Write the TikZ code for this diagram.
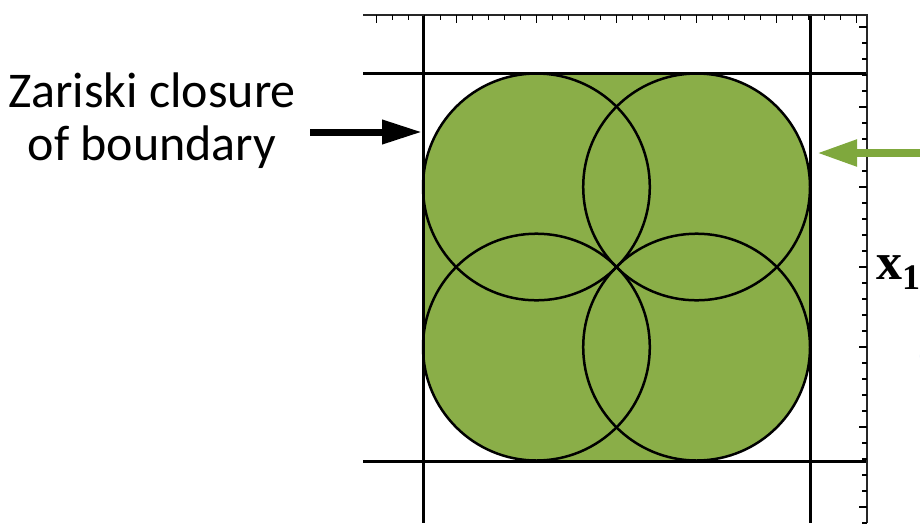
\documentclass[tikz,border=0pt]{standalone}
\usepackage{fontspec}
\setmainfont{Carlito}
\newfontfamily\serifbold{Liberation Serif}
\usetikzlibrary{arrows.meta}
\definecolor{leaf}{HTML}{8AAE48}
\definecolor{leafarrow}{HTML}{7FA83D}
\definecolor{capblue}{HTML}{4472C4}
\tikzset{
  gridline/.style={line width=3pt, black},
  circline/.style={line width=2.5pt, black},
  axisline/.style={line width=1.6pt, black!85},
  tickline/.style={line width=1.2pt, black},
  fatarrow/.style={line width=7pt, -{Triangle[length=40pt,width=23pt]}},
  greenarrow/.style={line width=8pt, leafarrow, -{Triangle[length=40pt,width=25pt]}},
}
\begin{document}
\begin{tikzpicture}[x=1pt,y=-1pt]
\useasboundingbox (0,0) rectangle (920,523);
% filled rounded square
\fill[leaf, rounded corners=113.4pt] (423,73) rectangle (810,461);
% four circles
\foreach \dx/\dy [count=\i] in {-80.1/-80.1, 80.1/-80.1, -80.1/80.1, 80.1/80.1} {
  \draw[circline] (616.5+\dx,267+\dy) circle[radius=113.4pt];
}
% grid lines
\draw[gridline] (423,15) -- (423,523);
\draw[gridline] (810,15) -- (810,523);
\draw[gridline] (363,73) -- (867,73);
\draw[gridline] (363,461) -- (867,461);
% axes
\draw[axisline] (363,15) -- (867,15) -- (867,523);
\foreach \k in {-15,...,15} {
  \pgfmathsetmacro\tl{ifthenelse(mod(abs(\k),5)==0,8,5)}
  \draw[tickline] (616.5+16*\k,15) -- ++(0,\tl);
}
\foreach \k in {-15,...,16} {
  \pgfmathsetmacro\tl{ifthenelse(mod(abs(\k),5)==0,8,5)}
  \draw[tickline] (867,267+16*\k) -- ++(-\tl,0);
}
% label and arrows
\node[font=\fontsize{50}{53}\selectfont, align=center, anchor=base, inner sep=0pt] (lab) at (152,160) {Zariski closure\\of boundary};
\coordinate (blackstart) at (310,132);
\coordinate (blacktip) at (422,132);
\draw[fatarrow] (blackstart) -- (blacktip);
\coordinate (greenstart) at (925,153);
\coordinate (greentip) at (817,153);
\draw[greenarrow] (greenstart) -- (greentip);
% axis label
\node[anchor=base west, inner sep=0pt, font=\serifbold\bfseries\fontsize{52}{52}\selectfont] (xone) at (876,279) {x\raisebox{-10pt}{\fontsize{36}{36}\selectfont 1}};
\node[anchor=west, inner sep=0pt, text=capblue, font=\fontsize{40}{40}\selectfont] (paren) at (917,357) {(};
\end{tikzpicture}
\end{document}
